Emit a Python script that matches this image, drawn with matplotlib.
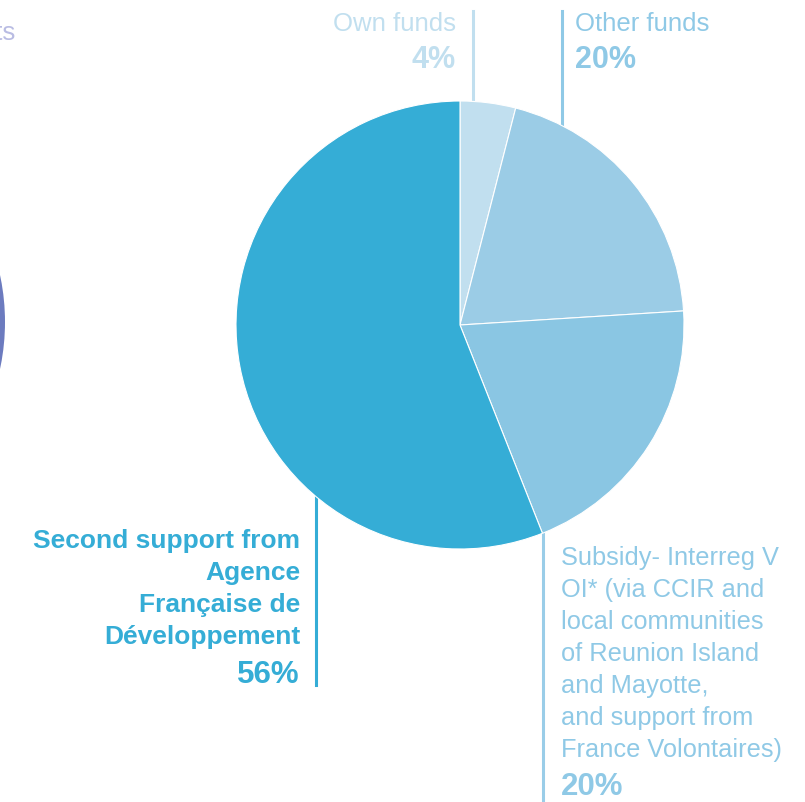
import matplotlib.pyplot as plt
from matplotlib.patches import Circle

# funding shares (percent), clockwise from the top
labels = ['Own funds', 'Other funds',
          'Subsidy- Interreg V\nOI* (via CCIR and\nlocal communities\nof Reunion Island\nand Mayotte,\nand support from\nFrance Volontaires)',
          'Second support from\nAgence\nFrançaise de\nDéveloppement']
shares = [4, 20, 20, 56]
colors = ['#c1dfef', '#9bcce6', '#8ac6e3', '#35add6']
text_colors = ['#c1dfef', '#8fc9e6', '#8fc9e6', '#35add6']

W, H = 805, 803
fig = plt.figure(figsize=(W / 100, H / 100), dpi=100)
ax = fig.add_axes([0, 0, 1, 1])
plt.rcParams['font.family'] = ['Liberation Sans', 'DejaVu Sans']


def Y(y):
    # image rows -> data y
    return H - y


# the pie
ax.pie(shares, colors=colors, startangle=90, counterclock=False,
       center=(460, Y(326)), radius=224, frame=True,
       wedgeprops=dict(edgecolor='white', linewidth=0.8, zorder=3))
ax.set_xlim(0, W)
ax.set_ylim(0, H)
ax.set_aspect('equal')
ax.axis('off')

# leader lines
lw = 2.2
ax.plot([473, 473], [Y(12), Y(110)], color=colors[0], lw=lw, zorder=1)
ax.plot([562, 562], [Y(12), Y(140)], color='#8fc9e6', lw=lw, zorder=1)
ax.plot([543, 543], [Y(500), Y(803)], color='#9acde8', lw=lw, zorder=1)
ax.plot([316, 316], [Y(450), Y(686)], color=colors[3], lw=lw, zorder=1)

# labels
ax.text(456, Y(31), labels[0], color=text_colors[0], fontsize=18.5,
        ha='right', va='baseline')
ax.text(456, Y(68), f'{shares[0]}%', color=text_colors[0], fontsize=22,
        fontweight='bold', ha='right', va='baseline')

ax.text(575, Y(31), labels[1], color=text_colors[1], fontsize=18.5,
        ha='left', va='baseline')
ax.text(575, Y(68), f'{shares[1]}%', color=text_colors[1], fontsize=22,
        fontweight='bold', ha='left', va='baseline')

sub_lines = labels[2].split('\n')
for i, line in enumerate(sub_lines):
    ax.text(561, Y(565 + 32 * i), line, color=text_colors[2], fontsize=18.3,
            ha='left', va='baseline')
ax.text(561, Y(795), f'{shares[2]}%', color=text_colors[2], fontsize=22.5,
        fontweight='bold', ha='left', va='baseline')

afd_lines = labels[3].split('\n')
for i, line in enumerate(afd_lines):
    ax.text(300, Y(548 + 32 * i), line, color=text_colors[3], fontsize=19,
            fontweight='bold', ha='right', va='baseline')
ax.text(300, Y(683), f'{shares[3]}%', color=text_colors[3], fontsize=22.5,
        fontweight='bold', ha='right', va='baseline')

# pieces of the neighbouring chart, cut off at the left edge
ax.add_patch(Circle((-220, Y(323)), 225, facecolor='#6c7bbf',
                    edgecolor='none', zorder=2))
ax.text(16, Y(40), 'nts', color='#b9bce3', fontsize=18.5,
        ha='right', va='baseline')

fig.savefig('out.png', dpi=100)
